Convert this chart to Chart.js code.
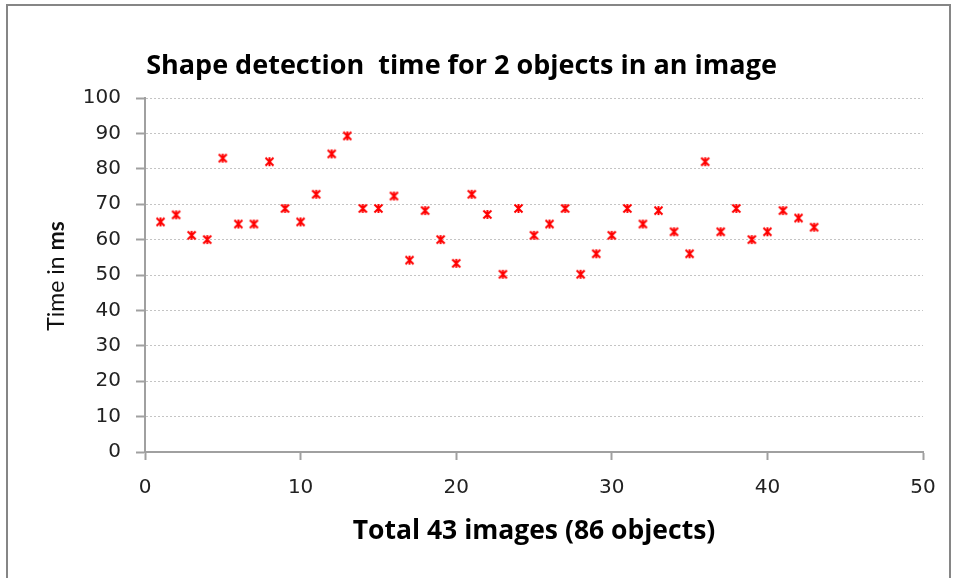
<!DOCTYPE html>
<html>
<head>
<meta charset="utf-8">
<title>Shape detection time</title>
<script src="https://cdn.jsdelivr.net/npm/chart.js@4"></script>
<style>
  html, body { margin: 0; padding: 0; background: #fff; }
  #wrap { position: relative; width: 958px; height: 578px; }
</style>
</head>
<body>
<div id="wrap"><canvas id="chart" width="958" height="578"></canvas></div>
<script>
// image number (x) and detection time in ms (y)
const imageNo = [1,2,3,4,5,6,7,8,9,10,11,12,13,14,15,16,17,18,19,20,21,22,23,24,25,26,27,28,29,30,31,32,33,34,35,36,37,38,39,40,41,42,43];
const timeMs = [65,67,61.2,60,83,64.4,64.4,82,68.8,65,72.8,84.2,89.3,68.8,68.8,72.3,54.2,68.2,60,53.3,72.8,67.1,50.2,68.8,61.2,64.4,68.8,50.2,56,61.2,68.8,64.4,68.2,62.2,56,82,62.2,68.8,60,62.2,68.2,66.1,63.5];
const xTicks = [0,10,20,30,40,50];
const yTicks = [0,10,20,30,40,50,60,70,80,90,100];

const chartTitle = "Shape detection  time for 2 objects in an image";
const xTitle = "Total 43 images (86 objects)";

const axisGray = "#a0a0a0";
const tickFont = {family: "DejaVu Sans", size: 20};

// asterisk-ish marker: an X plus a vertical stroke
function makeMarker(){
  const c = document.createElement("canvas");
  c.width = 11; c.height = 11;
  const g = c.getContext("2d");
  g.strokeStyle = "#ff0000";
  g.lineWidth = 2;
  g.beginPath();
  g.moveTo(1.5,1.5); g.lineTo(9.5,9.5);
  g.moveTo(9.5,1.5); g.lineTo(1.5,9.5);
  g.moveTo(5.5,1); g.lineTo(5.5,10);
  g.stroke();
  return c;
}

const framePlugin = {
  id: "frame",
  afterDraw(chart){
    const ctx = chart.ctx;
    ctx.save();
    ctx.strokeStyle = "#868686";
    ctx.lineWidth = 2;
    ctx.strokeRect(7, 5, 943, 620);
    // y axis title, "ms" in bold
    ctx.translate(57, 276);
    ctx.rotate(-Math.PI/2);
    ctx.fillStyle = "#111";
    ctx.textBaseline = "middle";
    const a = "Time in ", b = "ms";
    ctx.font = "23px Lato";
    const wa = ctx.measureText(a).width;
    ctx.font = "bold 23px Lato";
    const wb = ctx.measureText(b).width;
    let x0 = -(wa + wb)/2;
    ctx.font = "23px Lato";
    ctx.textAlign = "left";
    ctx.fillText(a, x0, 0);
    ctx.font = "bold 23px Lato";
    ctx.fillText(b, x0 + wa, 0);
    ctx.restore();
  }
};

new Chart(document.getElementById("chart"), {
  type: "scatter",
  data: {
    datasets: [{
      data: imageNo.map((x, i) => ({x, y: timeMs[i]})),
      pointStyle: makeMarker(),
      pointRadius: 5,
      pointHoverRadius: 5
    }]
  },
  options: {
    responsive: false,
    animation: false,
    layout: {padding: {top: 0, left: 0, right: 35, bottom: 0}},
    plugins: {
      legend: {display: false},
      tooltip: {enabled: false},
      title: {
        display: true,
        text: chartTitle,
        color: "#000",
        font: {family: "Open Sans", size: 27, weight: "bold", lineHeight: 1.2},
        padding: {top: 50, bottom: 15.6}
      }
    },
    scales: {
      x: {
        type: "linear",
        min: 0, max: 50,
        afterBuildTicks(scale){ scale.ticks = xTicks.map(v => ({value: v})); },
        afterFit(scale){ scale.height = 126; },
        ticks: {color: "#222", font: tickFont, padding: 16, maxRotation: 0},
        grid: {drawOnChartArea: false, tickLength: 8, tickColor: axisGray, tickWidth: 2, tickBorderDash: []},
        border: {color: axisGray, width: 2},
        title: {
          display: true,
          text: xTitle,
          color: "#000",
          font: {family: "Open Sans", size: 26.5, weight: "bold", lineHeight: 1.2},
          padding: {top: 0, bottom: 31}
        }
      },
      y: {
        min: 0, max: 100,
        afterBuildTicks(scale){ scale.ticks = yTicks.map(v => ({value: v})); },
        afterFit(scale){ scale.width = 145; },
        ticks: {color: "#222", font: tickFont, padding: 15},
        grid: {color: "#c4c4c4", lineWidth: 1, tickLength: 9, tickColor: axisGray, tickWidth: 2, tickBorderDash: []},
        border: {color: axisGray, width: 2, dash: [2, 2]}
      }
    }
  },
  plugins: [framePlugin]
});
</script>
</body>
</html>
